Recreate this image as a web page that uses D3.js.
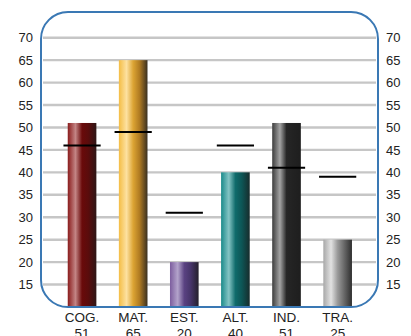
<!DOCTYPE html>
<html>
<head>
<meta charset="utf-8">
<script src="https://cdn.jsdelivr.net/npm/d3@7"></script>
<style>
  html, body { margin: 0; padding: 0; background: #fff; }
  svg { display: block; }
  text { font-family: "Liberation Sans", Arial, sans-serif; fill: #222; }
</style>
</head>
<body>
<svg id="chart" width="411" height="336"></svg>
<script>
// Scores per area, with the reference (mean) marker for each
const categories = ["COG.", "MAT.", "EST.", "ALT.", "IND.", "TRA."];
const scores     = [51, 65, 20, 40, 51, 25];
const means      = [46, 49, 31, 46, 41, 39];
const yTicks     = [15, 20, 25, 30, 35, 40, 45, 50, 55, 60, 65, 70];

// Cylinder-style shading for each bar: edge, highlight, body, shadow
const palettes = [
  ["#8a1c1c", "#c38585", "#6a0a0a", "#5a0c0c", "#2e1616"],
  ["#f4bd45", "#fde1a0", "#dca433", "#b07b22", "#3a3020"],
  ["#7c5d9e", "#b3a3cb", "#5a4282", "#47356a", "#24202c"],
  ["#1a8a8a", "#84c4c4", "#0f6b6b", "#0d5656", "#172c2c"],
  ["#3c3c3c", "#a4a4a4", "#262626", "#222222", "#1e1e1e"],
  ["#a8a8a8", "#e2e2e2", "#9a9a9a", "#6a6a6a", "#2e2e2e"]
];

const svg = d3.select("#chart");

const frame = { x: 41, y: 12, w: 337, h: 295, r: 27 };

const y = d3.scaleLinear().domain([10, 70]).range([307, 37.7]);
const x = d3.scaleBand()
  .domain(categories)
  .range([56.5, 363.2])
  .paddingInner(0.44)
  .paddingOuter(0.22);

// gradients
const defs = svg.append("defs");
palettes.forEach((p, i) => {
  const g = defs.append("linearGradient")
    .attr("id", "bar" + i)
    .attr("x1", "0%").attr("x2", "100%").attr("y1", "0%").attr("y2", "0%");
  const offs = [0, 0.27, 0.5, 0.72, 1];
  offs.forEach((o, k) => g.append("stop").attr("offset", o).attr("stop-color", p[k]));
});

// grid lines
svg.append("g")
  .selectAll("line")
  .data(yTicks)
  .join("line")
  .attr("x1", frame.x + 2)
  .attr("x2", frame.x + frame.w - 2)
  .attr("y1", d => y(d))
  .attr("y2", d => y(d))
  .attr("stroke", "#c6c6c6")
  .attr("stroke-width", 2.4);

// bars
svg.append("g")
  .selectAll("rect")
  .data(categories)
  .join("rect")
  .attr("x", d => x(d))
  .attr("width", x.bandwidth())
  .attr("y", (d, i) => y(scores[i]))
  .attr("height", (d, i) => y(10) - y(scores[i]))
  .attr("fill", (d, i) => `url(#bar${i})`);

// mean markers
const markW = x.bandwidth() * 1.3;
svg.append("g")
  .selectAll("line")
  .data(categories)
  .join("line")
  .attr("x1", d => x(d) + x.bandwidth() / 2 - markW / 2)
  .attr("x2", d => x(d) + x.bandwidth() / 2 + markW / 2)
  .attr("y1", (d, i) => y(means[i]))
  .attr("y2", (d, i) => y(means[i]))
  .attr("stroke", "#000")
  .attr("stroke-width", 2);

// frame
svg.append("rect")
  .attr("x", frame.x).attr("y", frame.y)
  .attr("width", frame.w).attr("height", frame.h)
  .attr("rx", frame.r).attr("ry", frame.r)
  .attr("fill", "none")
  .attr("stroke", "#3a78b4")
  .attr("stroke-width", 2);

// y axes (both sides)
const leftAxis = d3.axisLeft(y).tickValues(yTicks).tickSize(0).tickPadding(0);
const rightAxis = d3.axisRight(y).tickValues(yTicks).tickSize(0).tickPadding(0);

const gl = svg.append("g").attr("transform", "translate(33,0)").call(leftAxis);
const gr = svg.append("g").attr("transform", "translate(386,0)").call(rightAxis);
[gl, gr].forEach(g => {
  g.select(".domain").remove();
  g.selectAll("text")
    .attr("font-size", 13)
    .attr("font-family", "Liberation Sans, Arial, sans-serif")
    .attr("fill", "#222");
});

// category labels with score underneath
const lab = svg.append("g")
  .selectAll("text")
  .data(categories)
  .join("text")
  .attr("x", d => x(d) + x.bandwidth() / 2)
  .attr("y", 322)
  .attr("text-anchor", "middle")
  .attr("font-size", 13.5);
lab.append("tspan").text(d => d);
lab.append("tspan")
  .attr("x", d => x(d) + x.bandwidth() / 2)
  .attr("dy", 16)
  .text((d, i) => scores[i]);
</script>
</body>
</html>
